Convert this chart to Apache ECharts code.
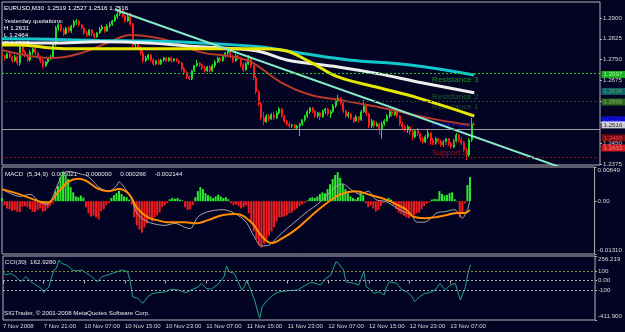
<!DOCTYPE html>
<html>
<head>
<meta charset="utf-8">
<script src="https://cdn.jsdelivr.net/npm/echarts@6/dist/echarts.min.js"></script>
<style>
  html, body { margin: 0; padding: 0; background: #030323; }
  #chart { width: 625px; height: 332px; }
</style>
</head>
<body>
<div id="chart"></div>
<script>
// ---- data ----
const tickLabels = ['7 Nov 2008', '7 Nov 21:00', '10 Nov 07:00', '10 Nov 15:00', '10 Nov 23:00', '11 Nov 07:00',
  '11 Nov 15:00', '11 Nov 23:00', '12 Nov 07:00', '12 Nov 15:00', '12 Nov 23:00', '13 Nov 07:00'];

const priceTicks = [1.2375, 1.2450, 1.2525, 1.2600, 1.2675, 1.2750, 1.2825, 1.2900];

// [open, close, low, high] for each M30 bar
const candles = [
  [1.2771, 1.2764, 1.2756, 1.2778], [1.2764, 1.2756, 1.2746, 1.2767], [1.2756, 1.2771, 1.2753, 1.2774], [1.2771, 1.2760, 1.2756, 1.2778],
  [1.2760, 1.2746, 1.2738, 1.2764], [1.2746, 1.2760, 1.2742, 1.2767], [1.2760, 1.2738, 1.2731, 1.2764], [1.2738, 1.2796, 1.2728, 1.2803],
  [1.2796, 1.2778, 1.2771, 1.2799], [1.2778, 1.2767, 1.2760, 1.2785], [1.2767, 1.2749, 1.2742, 1.2774], [1.2749, 1.2778, 1.2742, 1.2785],
  [1.2778, 1.2789, 1.2767, 1.2792], [1.2789, 1.2774, 1.2764, 1.2792], [1.2774, 1.2760, 1.2753, 1.2778], [1.2760, 1.2746, 1.2738, 1.2764],
  [1.2746, 1.2728, 1.2720, 1.2753], [1.2728, 1.2742, 1.2724, 1.2746], [1.2742, 1.2756, 1.2735, 1.2760], [1.2756, 1.2760, 1.2749, 1.2767],
  [1.2760, 1.2807, 1.2756, 1.2814], [1.2807, 1.2864, 1.2799, 1.2871], [1.2864, 1.2875, 1.2853, 1.2882], [1.2875, 1.2857, 1.2850, 1.2878],
  [1.2857, 1.2843, 1.2835, 1.2864], [1.2843, 1.2864, 1.2839, 1.2868], [1.2864, 1.2853, 1.2846, 1.2871], [1.2853, 1.2871, 1.2846, 1.2875],
  [1.2871, 1.2886, 1.2864, 1.2893], [1.2886, 1.2889, 1.2875, 1.2896], [1.2889, 1.2875, 1.2868, 1.2893], [1.2875, 1.2864, 1.2857, 1.2878],
  [1.2864, 1.2846, 1.2839, 1.2868], [1.2846, 1.2839, 1.2832, 1.2853], [1.2839, 1.2857, 1.2835, 1.2860], [1.2857, 1.2843, 1.2835, 1.2860],
  [1.2843, 1.2832, 1.2825, 1.2846], [1.2832, 1.2846, 1.2828, 1.2850], [1.2846, 1.2860, 1.2843, 1.2868], [1.2860, 1.2868, 1.2853, 1.2875],
  [1.2868, 1.2853, 1.2846, 1.2871], [1.2853, 1.2871, 1.2850, 1.2878], [1.2871, 1.2878, 1.2864, 1.2886], [1.2878, 1.2889, 1.2871, 1.2893],
  [1.2889, 1.2904, 1.2886, 1.2911], [1.2904, 1.2914, 1.2896, 1.2922], [1.2914, 1.2925, 1.2907, 1.2936], [1.2925, 1.2907, 1.2900, 1.2929],
  [1.2907, 1.2889, 1.2882, 1.2911], [1.2889, 1.2904, 1.2886, 1.2911], [1.2904, 1.2878, 1.2871, 1.2918], [1.2878, 1.2803, 1.2796, 1.2882],
  [1.2803, 1.2814, 1.2792, 1.2821], [1.2814, 1.2792, 1.2785, 1.2817], [1.2792, 1.2774, 1.2767, 1.2799], [1.2774, 1.2746, 1.2738, 1.2782],
  [1.2746, 1.2756, 1.2742, 1.2764], [1.2756, 1.2767, 1.2749, 1.2771], [1.2767, 1.2749, 1.2742, 1.2771], [1.2749, 1.2735, 1.2728, 1.2756],
  [1.2735, 1.2746, 1.2731, 1.2749], [1.2746, 1.2735, 1.2731, 1.2753], [1.2735, 1.2749, 1.2731, 1.2753], [1.2749, 1.2756, 1.2742, 1.2760],
  [1.2756, 1.2746, 1.2742, 1.2760], [1.2746, 1.2756, 1.2742, 1.2760], [1.2756, 1.2746, 1.2738, 1.2760], [1.2746, 1.2753, 1.2742, 1.2756],
  [1.2753, 1.2746, 1.2742, 1.2756], [1.2746, 1.2738, 1.2735, 1.2749], [1.2738, 1.2717, 1.2710, 1.2742], [1.2717, 1.2703, 1.2695, 1.2724],
  [1.2703, 1.2688, 1.2681, 1.2710], [1.2688, 1.2681, 1.2677, 1.2695], [1.2681, 1.2710, 1.2677, 1.2713], [1.2710, 1.2728, 1.2706, 1.2731],
  [1.2728, 1.2738, 1.2724, 1.2749], [1.2738, 1.2731, 1.2724, 1.2742], [1.2731, 1.2720, 1.2713, 1.2735], [1.2720, 1.2710, 1.2703, 1.2728],
  [1.2710, 1.2724, 1.2706, 1.2728], [1.2724, 1.2710, 1.2703, 1.2731], [1.2710, 1.2728, 1.2706, 1.2735], [1.2728, 1.2742, 1.2720, 1.2749],
  [1.2742, 1.2756, 1.2738, 1.2760], [1.2756, 1.2746, 1.2738, 1.2760], [1.2746, 1.2764, 1.2742, 1.2767], [1.2764, 1.2774, 1.2756, 1.2778],
  [1.2774, 1.2785, 1.2767, 1.2792], [1.2785, 1.2764, 1.2756, 1.2789], [1.2764, 1.2746, 1.2738, 1.2767], [1.2746, 1.2764, 1.2742, 1.2771],
  [1.2764, 1.2756, 1.2749, 1.2767], [1.2756, 1.2731, 1.2724, 1.2760], [1.2731, 1.2713, 1.2706, 1.2738], [1.2713, 1.2735, 1.2710, 1.2742],
  [1.2735, 1.2753, 1.2731, 1.2767], [1.2753, 1.2728, 1.2720, 1.2756], [1.2728, 1.2685, 1.2677, 1.2731], [1.2685, 1.2634, 1.2627, 1.2692],
  [1.2634, 1.2591, 1.2584, 1.2642], [1.2591, 1.2541, 1.2534, 1.2598], [1.2541, 1.2527, 1.2516, 1.2563], [1.2527, 1.2548, 1.2523, 1.2555],
  [1.2548, 1.2537, 1.2530, 1.2555], [1.2537, 1.2552, 1.2534, 1.2559], [1.2552, 1.2541, 1.2534, 1.2563], [1.2541, 1.2559, 1.2537, 1.2566],
  [1.2559, 1.2573, 1.2552, 1.2580], [1.2573, 1.2548, 1.2541, 1.2577], [1.2548, 1.2530, 1.2523, 1.2552], [1.2530, 1.2519, 1.2512, 1.2534],
  [1.2519, 1.2512, 1.2505, 1.2527], [1.2512, 1.2516, 1.2505, 1.2519], [1.2516, 1.2505, 1.2501, 1.2519], [1.2505, 1.2512, 1.2501, 1.2516],
  [1.2512, 1.2519, 1.2476, 1.2523], [1.2519, 1.2534, 1.2512, 1.2537], [1.2534, 1.2548, 1.2527, 1.2552], [1.2548, 1.2563, 1.2541, 1.2570],
  [1.2563, 1.2577, 1.2555, 1.2580], [1.2577, 1.2566, 1.2559, 1.2580], [1.2566, 1.2548, 1.2541, 1.2570], [1.2548, 1.2559, 1.2541, 1.2563],
  [1.2559, 1.2545, 1.2534, 1.2563], [1.2545, 1.2566, 1.2541, 1.2570], [1.2566, 1.2573, 1.2555, 1.2577], [1.2573, 1.2555, 1.2548, 1.2577],
  [1.2555, 1.2563, 1.2541, 1.2570], [1.2563, 1.2584, 1.2559, 1.2591], [1.2584, 1.2602, 1.2577, 1.2609], [1.2602, 1.2613, 1.2598, 1.2624],
  [1.2613, 1.2595, 1.2588, 1.2616], [1.2595, 1.2566, 1.2559, 1.2598], [1.2566, 1.2548, 1.2541, 1.2570], [1.2548, 1.2555, 1.2541, 1.2563],
  [1.2555, 1.2541, 1.2534, 1.2559], [1.2541, 1.2530, 1.2523, 1.2545], [1.2530, 1.2545, 1.2527, 1.2552], [1.2545, 1.2534, 1.2523, 1.2548],
  [1.2534, 1.2563, 1.2530, 1.2570], [1.2563, 1.2584, 1.2559, 1.2606], [1.2584, 1.2555, 1.2548, 1.2588], [1.2555, 1.2512, 1.2505, 1.2559],
  [1.2512, 1.2530, 1.2505, 1.2537], [1.2530, 1.2512, 1.2505, 1.2534], [1.2512, 1.2519, 1.2509, 1.2527], [1.2519, 1.2501, 1.2480, 1.2523],
  [1.2501, 1.2519, 1.2466, 1.2527], [1.2519, 1.2530, 1.2512, 1.2537], [1.2530, 1.2548, 1.2527, 1.2555], [1.2548, 1.2563, 1.2541, 1.2570],
  [1.2563, 1.2552, 1.2545, 1.2570], [1.2552, 1.2566, 1.2548, 1.2573], [1.2566, 1.2548, 1.2541, 1.2570], [1.2548, 1.2519, 1.2512, 1.2552],
  [1.2519, 1.2509, 1.2501, 1.2527], [1.2509, 1.2498, 1.2491, 1.2516], [1.2498, 1.2509, 1.2487, 1.2516], [1.2509, 1.2491, 1.2480, 1.2512],
  [1.2491, 1.2473, 1.2462, 1.2498], [1.2473, 1.2494, 1.2469, 1.2501], [1.2494, 1.2484, 1.2476, 1.2505], [1.2484, 1.2466, 1.2455, 1.2487],
  [1.2466, 1.2455, 1.2448, 1.2473], [1.2455, 1.2473, 1.2451, 1.2480], [1.2473, 1.2487, 1.2466, 1.2498], [1.2487, 1.2462, 1.2444, 1.2491],
  [1.2462, 1.2451, 1.2444, 1.2469], [1.2451, 1.2466, 1.2444, 1.2473], [1.2466, 1.2458, 1.2448, 1.2469], [1.2458, 1.2444, 1.2437, 1.2462],
  [1.2444, 1.2455, 1.2437, 1.2462], [1.2455, 1.2466, 1.2444, 1.2469], [1.2466, 1.2448, 1.2440, 1.2469], [1.2448, 1.2437, 1.2430, 1.2455],
  [1.2437, 1.2458, 1.2433, 1.2466], [1.2458, 1.2480, 1.2451, 1.2487], [1.2480, 1.2462, 1.2455, 1.2484], [1.2462, 1.2451, 1.2444, 1.2473],
  [1.2451, 1.2426, 1.2419, 1.2458], [1.2426, 1.2408, 1.2390, 1.2433], [1.2408, 1.2462, 1.2401, 1.2469], [1.2462, 1.2519, 1.2455, 1.2541],
  [1.2519, 1.2516, 1.2516, 1.2527]
];

// moving averages, read at [bar, price]
const maCyan = [[0, 1.2825], [18, 1.2823], [38, 1.2819], [57, 1.2817], [77, 1.2810], [100, 1.2796], [116, 1.2774],
  [135, 1.2749], [159, 1.2731], [184, 1.2695]];
const maWhite = [[0, 1.2810], [19, 1.2810], [38, 1.2814], [57, 1.2810], [77, 1.2796], [99, 1.2782], [111, 1.2749],
  [131, 1.2724], [147, 1.2699], [162, 1.2670], [184, 1.2631]];
const maYellow = [[0, 1.2803], [7, 1.2803], [19, 1.2792], [25, 1.2789], [57, 1.2789], [99, 1.2789], [109, 1.2785],
  [120, 1.2742], [131, 1.2688], [147, 1.2649], [162, 1.2613], [184, 1.2548]];
const maRed = [[0, 1.2785], [19, 1.2756], [31, 1.2774], [42, 1.2814], [50, 1.2839], [64, 1.2821], [77, 1.2778],
  [90, 1.2760], [97, 1.2742], [109, 1.2667], [120, 1.2624], [131, 1.2606], [142, 1.2588], [152, 1.2570],
  [160, 1.2552], [170, 1.2534], [182, 1.2516]];
const trendLine = [[44, 1.2930], [220, 1.2356]];

// Fibonacci pivot levels
const levelNames = ['Resistance 3', 'Resistance 2', 'Resistance 1', 'Pivot Point', 'Support 1', 'Support 2'];
const levelValues = [1.2697, 1.2636, 1.2598, 1.2534, 1.2469, 1.2433];
const lastPrice = 1.2516;

// MACD (5,34,9)
const macdHist = [
  0.0008, -0.0010, -0.0018, -0.0020, -0.0024, -0.0022, -0.0026, -0.0027, -0.0014, -0.0012,
  -0.0015, -0.0020, -0.0026, -0.0027, -0.0022, -0.0018, -0.0026, -0.0024, -0.0018, -0.0012,
  -0.0005, 0.0025, 0.0038, 0.0060, 0.0074, 0.0066, 0.0055, 0.0035, 0.0022, 0.0012,
  0.0010, 0.0014, 0.0009, -0.0015, -0.0030, -0.0038, -0.0036, -0.0040, -0.0045, -0.0025,
  -0.0020, -0.0010, -0.0005, 0.0008, 0.0015, 0.0020, 0.0026, 0.0018, 0.0012, 0.0010,
  0.0004, -0.0008, -0.0040, -0.0060, -0.0070, -0.0078, -0.0065, -0.0055, -0.0045, -0.0050,
  -0.0040, -0.0035, -0.0028, -0.0015, -0.0010, -0.0005, 0.0005, 0.0008, 0.0006, 0.0008,
  0.0004, 0.0002, -0.0015, -0.0022, -0.0020, -0.0010, 0.0010, 0.0025, 0.0035, 0.0030,
  0.0020, 0.0015, 0.0012, 0.0008, 0.0012, 0.0016, 0.0012, 0.0008, 0.0010, 0.0005,
  -0.0005, -0.0010, -0.0008, -0.0012, -0.0018, -0.0015, -0.0010, -0.0030, -0.0055, -0.0075,
  -0.0095, -0.0110, -0.0115, -0.0105, -0.0095, -0.0085, -0.0075, -0.0065, -0.0050, -0.0040,
  -0.0040, -0.0038, -0.0035, -0.0030, -0.0028, -0.0022, -0.0018, -0.0012, -0.0008, -0.0004,
  0.0002, 0.0008, 0.0010, 0.0008, 0.0012, 0.0018, 0.0022, 0.0020, 0.0030, 0.0042,
  0.0055, 0.0065, 0.0072, 0.0058, 0.0042, 0.0030, 0.0020, 0.0012, 0.0008, 0.0005,
  0.0010, 0.0020, 0.0015, -0.0005, -0.0015, -0.0010, -0.0018, -0.0025, -0.0022, -0.0012,
  -0.0005, 0.0005, 0.0008, 0.0004, -0.0010, -0.0020, -0.0028, -0.0032, -0.0036, -0.0040,
  -0.0042, -0.0038, -0.0035, -0.0030, -0.0028, -0.0020, -0.0012, -0.0006, -0.0003, 0.0004,
  0.0006, 0.0005, 0.0025, 0.0018, 0.0014, 0.0016, 0.0020, 0.0022, 0.0005, -0.0002,
  -0.0040, -0.0028, -0.0005, 0.0040, 0.0060
];
const macdMain = [[0, 0.0030], [7, 0.0012], [11, 0.0017], [15, -0.0003], [18, -0.0008], [20, 0.0012], [22, 0.0043],
  [24, 0.0069], [26, 0.0074], [30, 0.0069], [34, 0.0061], [38, 0.0035], [42, 0.0025], [45, 0.0038], [46, 0.0048],
  [48, 0.0035], [51, 0.0004], [53, -0.0029], [56, -0.0047], [59, -0.0055], [64, -0.0060], [68, -0.0055],
  [72, -0.0065], [74, -0.0068], [77, -0.0039], [81, -0.0026], [87, -0.0021], [92, -0.0032], [96, -0.0052],
  [99, -0.0086], [102, -0.0111], [105, -0.0109], [108, -0.0091], [112, -0.0068], [116, -0.0047], [120, -0.0026],
  [124, -0.0008], [127, 0.0010], [131, 0.0035], [134, 0.0043], [137, 0.0030], [141, 0.0017], [144, 0.0025],
  [147, 0.0004], [151, -0.0001], [155, -0.0016], [159, -0.0029], [161, -0.0034], [163, -0.0052], [166, -0.0052],
  [171, -0.0029], [174, -0.0026], [178, -0.0021], [180, -0.0034], [181, -0.0042], [183, -0.0021], [184, 0.000266]];
const macdSignal = [[0, 0.0030], [7, 0.0017], [15, -0.0001], [18, -0.0003], [22, 0.0022], [26, 0.0048], [30, 0.0056],
  [33, 0.0051], [38, 0.0030], [42, 0.0025], [46, 0.0030], [50, 0.0017], [53, -0.0016], [57, -0.0039], [61, -0.0047],
  [65, -0.0052], [72, -0.0052], [76, -0.0055], [81, -0.0047], [87, -0.0034], [92, -0.0032], [98, -0.0052],
  [102, -0.0086], [106, -0.0104], [110, -0.0093], [116, -0.0068], [122, -0.0034], [127, -0.0008], [133, 0.0017],
  [139, 0.0025], [145, 0.0015], [151, 0.0004], [157, -0.0014], [159, -0.0021], [162, -0.0039], [166, -0.0042],
  [171, -0.0039], [175, -0.0034], [179, -0.0029], [182, -0.0029], [184, -0.002144]];
const macdTicks = [-0.0131, 0, 0.00849];

// CCI(30)
const cci = [[0, 92], [1, 57], [3, 75], [5, 40], [7, -13], [9, 40], [11, -13], [13, -47], [15, -81], [16, -127],
  [17, -92], [18, -71], [20, 110], [21, 127], [22, 214], [23, 180], [25, 162], [26, 144], [27, 110], [29, 102],
  [31, 110], [33, 75], [35, 40], [37, -13], [39, 40], [41, 57], [43, 75], [45, 92], [47, 110], [49, 92], [50, 5],
  [51, -169], [53, -186], [55, -238], [56, -204], [57, -169], [59, -134], [61, -127], [64, -117], [66, -92],
  [69, -99], [72, -127], [74, -99], [77, -65], [78, -29], [80, -81], [82, -92], [85, -29], [87, 40], [88, 151],
  [89, 92], [91, 75], [94, -99], [95, -65], [96, 5], [97, -65], [99, -204], [101, -395], [102, -274], [104, -204],
  [107, -134], [109, -117], [112, -106], [116, -99], [118, -65], [121, -19], [123, -29], [125, -47], [127, 23],
  [129, 57], [131, 196], [132, 180], [134, 110], [135, -13], [138, -29], [140, -47], [142, 92], [143, -65],
  [144, -81], [146, -134], [148, -117], [150, -151], [151, -65], [152, -13], [155, -29], [157, -99], [159, -117],
  [161, -169], [162, -221], [164, -169], [166, -134], [168, -127], [170, -99], [172, -29], [174, -99], [176, -47],
  [178, -29], [180, -204], [182, -65], [183, 75], [184, 162.928]];
const cciTicks = [-411.9, -100, 0, 100, 256.219];

// texts
const headerText = 'EURUSD,M30  1.2519 1.2527 1.2516 1.2516';
const yesterdayLines = ['Yesterday quotations:', 'H 1.2631', 'L 1.2464', 'C 1.2507'];
const macdTitle = 'MACD  (5,34,9)  0.006021     0.000000     0.000266     -0.002144';
const cciTitle = 'CCI(30)  162.9280';
const copyright = 'SIGTrader, \u00a9 2001-2008 MetaQuotes Software Corp.';

// ---- styling ----
const FONT = "'Liberation Sans', Arial, sans-serif";
const SMALL = 6.2;
const AXIS_TEXT = '#d8d8d8';
const BORDER = '#b4b4b4';
const SLOT_COUNT = 234; // bar slots across the chart width (empty space right of the last bar)

const slots = Array.from({ length: SLOT_COUNT }, (_, i) => 'b' + i);
const isTickSlot = (index) => index % 16 === 0 && index / 16 < tickLabels.length;

const levelStyles = [
  { line: '#22cc22', text: '#22bb22', box: '#22dd22', boxText: '#b8ffb8' },
  { line: '#2b4f2b', text: '#1f7a1f', box: '#167a7a', boxText: '#60b060' },
  { line: '#2b4a2b', text: '#2f5a2f', box: '#3a7a22', boxText: '#70a850' },
  { line: '#2828d0', text: '#3434ff', box: '#1414ff', boxText: '#0000b0' },
  { line: '#7a1010', text: '#a01414', box: '#9a0c0c', boxText: '#ff5050' },
  { line: '#8a1414', text: '#d01a1a', box: '#ff2222', boxText: '#ff9a9a' }
];

const xAxisFor = (gridIndex, bottom) => ({
  type: 'category',
  gridIndex,
  data: slots,
  boundaryGap: false,
  axisLine: { show: false },
  splitLine: { show: false },
  axisTick: { show: bottom, interval: isTickSlot, length: 3, lineStyle: { color: BORDER } },
  axisLabel: {
    show: bottom,
    interval: isTickSlot,
    formatter: (value, index) => tickLabels[index / 16] || '',
    align: 'left',
    margin: 3,
    color: AXIS_TEXT,
    fontSize: 6,
    fontFamily: FONT
  }
});

const yAxisFor = (gridIndex, min, max, ticks, formatter) => ({
  type: 'value',
  gridIndex,
  position: 'right',
  min,
  max,
  splitLine: { show: false },
  axisLine: { show: false },
  axisTick: { show: true, customValues: ticks, length: 2, lineStyle: { color: BORDER } },
  axisLabel: { customValues: ticks, formatter, margin: 3, color: AXIS_TEXT, fontSize: SMALL, fontFamily: FONT, rich: {
    down: { padding: [7, 0, 0, 0], color: AXIS_TEXT, fontSize: SMALL, fontFamily: FONT },
    up: { padding: [0, 0, 7, 0], color: AXIS_TEXT, fontSize: SMALL, fontFamily: FONT }
  } }
});

const text = (str, x, y, color, size) => ({
  type: 'text',
  x,
  y,
  silent: true,
  style: { text: str, fill: color, font: size + 'px ' + FONT, verticalAlign: 'middle' }
});

const levelLines = levelValues.map((v, i) => ({
  yAxis: v,
  lineStyle: { color: levelStyles[i].line, type: [2, 2], width: 1 }
}));
levelLines.push({ yAxis: lastPrice, lineStyle: { color: '#9a9a9a', type: 'solid', width: 1 } });

// price boxes on the right scale, last price drawn on top
const priceBoxes = levelValues.map((v, i) => ({
  value: [SLOT_COUNT - 1, v],
  label: { formatter: v.toFixed(4), backgroundColor: levelStyles[i].box, color: levelStyles[i].boxText }
}));
priceBoxes.push({
  value: [SLOT_COUNT - 1, lastPrice],
  label: { formatter: lastPrice.toFixed(4), backgroundColor: '#ffffff', color: '#000000' }
});

const maLine = (data, color, width, smooth) => ({
  type: 'line',
  xAxisIndex: 0,
  yAxisIndex: 0,
  data,
  smooth,
  symbol: 'none',
  silent: true,
  lineStyle: { color, width }
});

const option = {
  animation: false,
  backgroundColor: '#030323',
  grid: [
    { left: 2, right: 25, top: 2, height: 163, show: true, borderColor: BORDER, borderWidth: 1 },
    { left: 2, right: 25, top: 167, height: 87, show: true, borderColor: BORDER, borderWidth: 1 },
    { left: 2, right: 25, top: 256, height: 64, show: true, borderColor: BORDER, borderWidth: 1 }
  ],
  xAxis: [xAxisFor(0, false), xAxisFor(1, false), xAxisFor(2, true)],
  yAxis: [
    yAxisFor(0, 1.2372, 1.2957, priceTicks, (v) => v.toFixed(4)),
    yAxisFor(1, -0.0131, 0.00849, macdTicks, (v) => v === 0 ? '0.00' : (v > 0 ? '{down|' + v.toFixed(5) + '}' : '{up|' + v.toFixed(5) + '}')),
    yAxisFor(2, -411.9, 256.219, cciTicks, (v) => {
      if (v === 0) return '0.00';
      if (v > 200) return '{down|' + v.toFixed(3) + '}';
      if (v < -200) return '{up|' + v.toFixed(3) + '}';
      return String(v);
    })
  ],
  graphic: [
    text(yesterdayLines[0], 4, 21, '#ffffff', SMALL),
    text(yesterdayLines[1], 4, 28.5, '#ffffff', SMALL),
    text(yesterdayLines[2], 4, 35.5, '#ffffff', SMALL),
    text(yesterdayLines[3], 4, 43, '#ffffff', SMALL),
    text(headerText, 4, 8, '#ffffff', SMALL),
    text(macdTitle, 5, 174, '#e8e8e8', SMALL),
    text(cciTitle, 5, 262, '#e8e8e8', SMALL),
    text(copyright, 4, 313, '#e8e8e8', SMALL)
  ],
  series: [
    {
      type: 'candlestick',
      xAxisIndex: 0,
      yAxisIndex: 0,
      data: candles,
      barWidth: 1.5,
      silent: true,
      itemStyle: { color: '#22dd22', color0: '#ff1a1a', borderColor: '#22dd22', borderColor0: '#ff1a1a', borderWidth: 1 },
      markLine: { symbol: ['none', 'none'], silent: true, animation: false, label: { show: false }, data: levelLines }
    },
    maLine(maRed, '#b8382a', 2, 0.4),
    maLine(maCyan, '#12c6cc', 3, 0.4),
    maLine(maWhite, '#ededed', 3, 0.4),
    maLine(maYellow, '#e6e600', 3, 0.4),
    maLine(trendLine, '#86e8c6', 2, false),
    {
      type: 'scatter',
      xAxisIndex: 0,
      yAxisIndex: 0,
      symbolSize: 1,
      silent: true,
      itemStyle: { color: 'rgba(0,0,0,0)' },
      labelLayout: { dy: 5, hideOverlap: false },
      data: levelValues.map((v, i) => ({
        value: [167, v],
        name: levelNames[i],
        label: { color: levelStyles[i].text }
      })),
      label: { show: true, position: 'right', distance: 1, formatter: (p) => p.name, fontSize: 8, fontFamily: FONT }
    },
    {
      type: 'scatter',
      xAxisIndex: 0,
      yAxisIndex: 0,
      symbolSize: 1,
      silent: true,
      clip: false,
      itemStyle: { color: 'rgba(0,0,0,0)' },
      labelLayout: { hideOverlap: false },
      data: priceBoxes,
      label: { show: true, position: 'right', distance: 1, padding: [1, 3, 0, 2], fontSize: SMALL, fontFamily: FONT }
    },
    {
      type: 'bar',
      xAxisIndex: 1,
      yAxisIndex: 1,
      data: macdHist,
      barWidth: 2,
      silent: true,
      itemStyle: { color: (p) => p.value >= 0 ? '#2ee82e' : '#f01e1e' }
    },
    {
      type: 'line',
      xAxisIndex: 1,
      yAxisIndex: 1,
      data: macdMain,
      smooth: 0.3,
      symbol: 'none',
      silent: true,
      lineStyle: { color: '#a8a8a8', width: 1 }
    },
    {
      type: 'line',
      xAxisIndex: 1,
      yAxisIndex: 1,
      data: macdSignal,
      smooth: 0.4,
      symbol: 'none',
      silent: true,
      lineStyle: { color: '#ff8c00', width: 2 }
    },
    {
      type: 'line',
      xAxisIndex: 2,
      yAxisIndex: 2,
      data: cci,
      symbol: 'none',
      silent: true,
      lineStyle: { color: '#22a58a', width: 1 },
      markLine: {
        symbol: ['none', 'none'],
        silent: true,
        label: { show: false },
        data: [
          { yAxis: 100, lineStyle: { color: '#8a8a2a', type: [2, 2], width: 1 } },
          { yAxis: 0, lineStyle: { color: '#b0b0b0', type: [2, 2], width: 1 } },
          { yAxis: -100, lineStyle: { color: '#b0b0b0', type: [2, 2], width: 1 } }
        ]
      }
    }
  ]
};

const chart = echarts.init(document.getElementById('chart'));
chart.setOption(option);
</script>
</body>
</html>
